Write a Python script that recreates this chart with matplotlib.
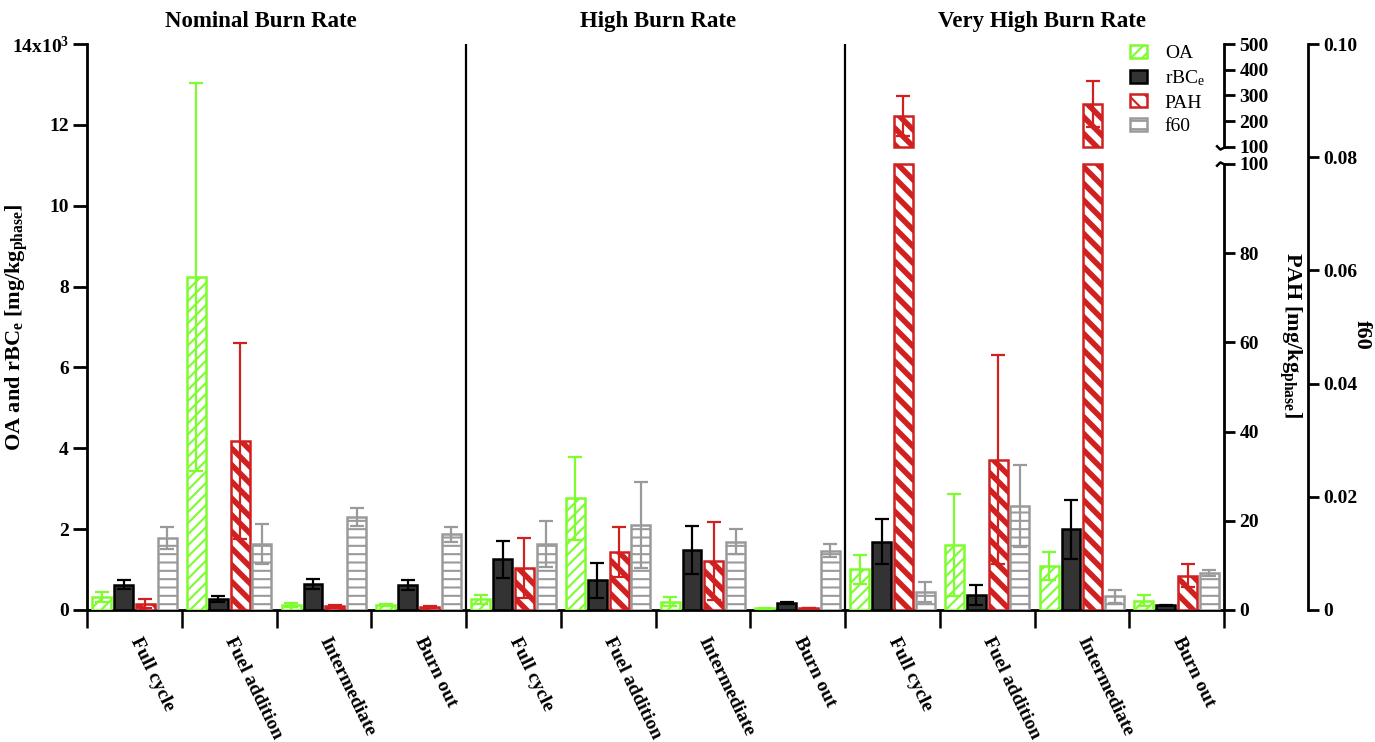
import numpy as np
import matplotlib
matplotlib.use('Agg')  # headless
import matplotlib.pyplot as plt
from matplotlib.ticker import FixedLocator, FixedFormatter

plt.rcParams['font.family'] = ['Liberation Serif', 'DejaVu Serif']
plt.rcParams['mathtext.default'] = 'regular'

groups = ['Nominal Burn Rate', 'High Burn Rate', 'Very High Burn Rate']
phases = ['Full cycle', 'Fuel addition', 'Intermediate', 'Burn out']

# OA and rBCe in 10^3 mg/kg, PAH in mg/kg, f60 as fraction (12 = 3 groups x 4 phases)
oa = [0.32, 8.24, 0.13, 0.12, 0.27, 2.76, 0.21, 0.04, 1.01, 1.61, 1.09, 0.23]
oa_err = [0.12, 4.8, 0.05, 0.03, 0.11, 1.02, 0.12, 0.02, 0.36, 1.26, 0.35, 0.14]
rbc = [0.62, 0.28, 0.64, 0.62, 1.25, 0.73, 1.48, 0.18, 1.69, 0.37, 2.00, 0.115]
rbc_err = [0.11, 0.07, 0.13, 0.12, 0.46, 0.43, 0.60, 0.02, 0.56, 0.24, 0.73, 0.02]
pah = [1.45, 37.9, 0.8, 0.6, 9.4, 12.9, 11.0, 0.45, 220, 33.7, 268, 7.7]
pah_err = [0.95, 22, 0.3, 0.2, 6.8, 5.6, 8.7, 0.1, 78, 23.5, 90, 2.6]
f60 = [0.0127, 0.0117, 0.0164, 0.0134, 0.0117, 0.0150, 0.0121, 0.0105,
       0.0032, 0.0184, 0.0024, 0.0065]
f60_err = [0.0019, 0.0035, 0.0016, 0.0013, 0.0041, 0.0076, 0.0022, 0.0012,
           0.0017, 0.0073, 0.0011, 0.0005]

GREEN = '#7dfc2e'
RED = '#d02020'
GRAY = '#9a9a9a'
DARK = '#333333'


# broken PAH axis: 0-100 on the lower part, 100-500 compressed above a gap
def pah_fwd(v):
    v = np.asarray(v, dtype=float)
    return np.where(v <= 100, v * 4.47, 464 + (v - 100) * 103 / 400)


def pah_inv(y):
    y = np.asarray(y, dtype=float)
    return np.where(y <= 447, y / 4.47,
                    np.where(y < 464, 100.0, 100 + (y - 464) * 400 / 103))


fig = plt.figure(figsize=(13.75, 7.42), dpi=100)
ax = fig.add_axes([0.0633, 0.1779, 0.8269, 0.7628])
ax_p = ax.twinx()
ax_f = ax.twinx()

n = len(oa)
x = np.arange(n) + 0.5
w = 0.2
step = 0.23


def style_bars(bars, hlw):
    for b in bars:
        if hasattr(b, 'set_hatch_linewidth'):
            b.set_hatch_linewidth(hlw)


ekw = dict(fmt='none', elinewidth=1.6, capsize=5, capthick=1.6, zorder=4)

plt.rcParams['hatch.linewidth'] = 1.5
b_oa = ax.bar(x - 1.5 * step, oa, w, facecolor='white', edgecolor=GREEN,
              hatch='///', linewidth=1.8, label='OA', zorder=3)
style_bars(b_oa, 1.5)
ax.errorbar(x - 1.5 * step, oa, yerr=oa_err, ecolor=GREEN, **ekw)

b_rbc = ax.bar(x - 0.5 * step, rbc, w, facecolor=DARK, edgecolor='black',
               linewidth=1.8, label='rBC$_e$', zorder=3)
ax.errorbar(x - 0.5 * step, rbc, yerr=rbc_err, ecolor='black', **ekw)

# PAH on broken scale, drawn in two pieces where it crosses the break
plt.rcParams['hatch.linewidth'] = 4.0
ax_p.set_yscale('function', functions=(pah_fwd, pah_inv))
pah_arr = np.array(pah)
b_pah = ax_p.bar(x + 0.5 * step, np.minimum(pah_arr, 100), w, facecolor='white',
                 edgecolor=RED, hatch='\\\\', linewidth=1.8, label='PAH', zorder=3)
style_bars(b_pah, 4.0)
hi = pah_arr > 100
b_pah_hi = ax_p.bar(x[hi] + 0.5 * step, pah_arr[hi] - 100.001, w, bottom=100.001,
                    facecolor='white', edgecolor=RED, hatch='\\\\', linewidth=1.8,
                    zorder=3)
style_bars(b_pah_hi, 4.0)
ax_p.errorbar(x + 0.5 * step, pah, yerr=pah_err, ecolor=RED, **ekw)

plt.rcParams['hatch.linewidth'] = 1.5
b_f60 = ax_f.bar(x + 1.5 * step, f60, w, facecolor='white', edgecolor=GRAY,
                 hatch='--', linewidth=1.8, label='f60', zorder=3)
style_bars(b_f60, 1.5)
ax_f.errorbar(x + 1.5 * step, f60, yerr=f60_err, ecolor=GRAY, **ekw)

# left axis
ax.set_xlim(0, n)
ax.set_ylim(0, 14)
ax.spines['top'].set_visible(False)
ax.spines['right'].set_visible(False)
for s in ('left', 'bottom'):
    ax.spines[s].set_linewidth(2)
ax.tick_params(axis='y', direction='out', length=10, width=2, labelsize=14, pad=3)
ax.set_yticks(np.arange(0, 15, 2))
ax.set_yticklabels(['0', '2', '4', '6', '8', '10', '12', '14x10$^3$'],
                   fontweight='bold')
ax.set_ylabel('OA and rBC$_e$ [mg/kg$_{phase}$]', fontsize=16, fontweight='bold')
ax.yaxis.set_label_coords(-0.05, 0.5)

# x axis: boundary ticks, labels at centres
ax.tick_params(axis='x', which='major', direction='out', length=13, width=1.8)
ax.tick_params(axis='x', which='minor', length=0, pad=20, labelsize=14)
ax.set_xticks(np.arange(n + 1))
ax.set_xticklabels([])
ax.set_xticks(x, minor=True)
ax.set_xticklabels(phases * len(groups), minor=True, rotation=-64,
                   ha='left', va='center', rotation_mode='anchor',
                   fontweight='bold', fontsize=14)
for t in ax.xaxis.get_minor_ticks():
    t.label1.set_fontweight('bold')

for g in range(1, len(groups)):
    ax.axvline(4 * g, color='black', lw=1.6, zorder=2)
title_x = [1.83, 6.03, 10.08]
for tx, name in zip(title_x, groups):
    ax.text(tx, 1.039, name, transform=ax.get_xaxis_transform(),
            ha='center', va='center', fontsize=16.5, fontweight='bold')

# PAH axis
ax_p.set_ylim(0, 500)
pah_ticks = [0, 20, 40, 60, 80, 100, 100.001, 200, 300, 400, 500]
ax_p.yaxis.set_major_locator(FixedLocator(pah_ticks))
ax_p.yaxis.set_major_formatter(FixedFormatter(
    ['0', '20', '40', '60', '80', '100', '100', '200', '300', '400', '500']))
ax_p.yaxis.set_minor_locator(FixedLocator([]))
for s in ax_p.spines.values():
    s.set_visible(False)
ax_p.tick_params(axis='y', direction='out', length=8, width=2, labelsize=14, pad=3)
tr = ax_p.get_yaxis_transform()
ax_p.plot([1, 1], [0, 100], transform=tr, color='black', lw=2, clip_on=False)
ax_p.plot([1, 1], [100.001, 500], transform=tr, color='black', lw=2, clip_on=False)
# little break hooks on the PAH spine
hook_low = [(0, 0), (-0.5, 0.25), (-1.0, -0.25)]
hook_high = [(0, 0), (-0.5, -0.25), (-1.0, 0.25)]
ax_p.plot([1], [100], transform=tr, marker=hook_low, markersize=12,
          markerfacecolor='none', markeredgecolor='black', markeredgewidth=1.8,
          clip_on=False, linestyle='none')
ax_p.plot([1], [100.001], transform=tr, marker=hook_high, markersize=12,
          markerfacecolor='none', markeredgecolor='black', markeredgewidth=1.8,
          clip_on=False, linestyle='none')
ax_p.text(1.058, 0.486, 'PAH [mg/kg$_{phase}$]', transform=ax_p.transAxes,
          rotation=270, ha='center', va='center', fontsize=16, fontweight='bold')

# f60 axis
ax_f.set_ylim(0, 0.1)
ax_f.set_yticks([0, 0.02, 0.04, 0.06, 0.08, 0.10])
ax_f.set_yticklabels(['0', '0.02', '0.04', '0.06', '0.08', '0.10'])
for s in ('left', 'top', 'bottom'):
    ax_f.spines[s].set_visible(False)
ax_f.spines['right'].set_position(('axes', 1 + 84 / 1137))
ax_f.spines['right'].set_linewidth(2)
ax_f.tick_params(axis='y', direction='out', length=8, width=2, labelsize=14, pad=3)
ax_f.text(1.1214, 0.486, 'f60', transform=ax_f.transAxes, rotation=270,
          ha='center', va='center', fontsize=16, fontweight='bold')
for lab in ax_p.get_yticklabels() + ax_f.get_yticklabels():
    lab.set_fontweight('bold')

ax_f.legend([b_oa, b_rbc, b_pah, b_f60], ['OA', 'rBC$_e$', 'PAH', 'f60'],
            loc='upper left', bbox_to_anchor=(0.816, 0.95),
            bbox_transform=fig.transFigure, frameon=False, fontsize=14,
            handlelength=0.9, handleheight=0.65, labelspacing=0.32,
            handletextpad=0.9, borderaxespad=0)

fig.savefig('out.png', dpi=100)
